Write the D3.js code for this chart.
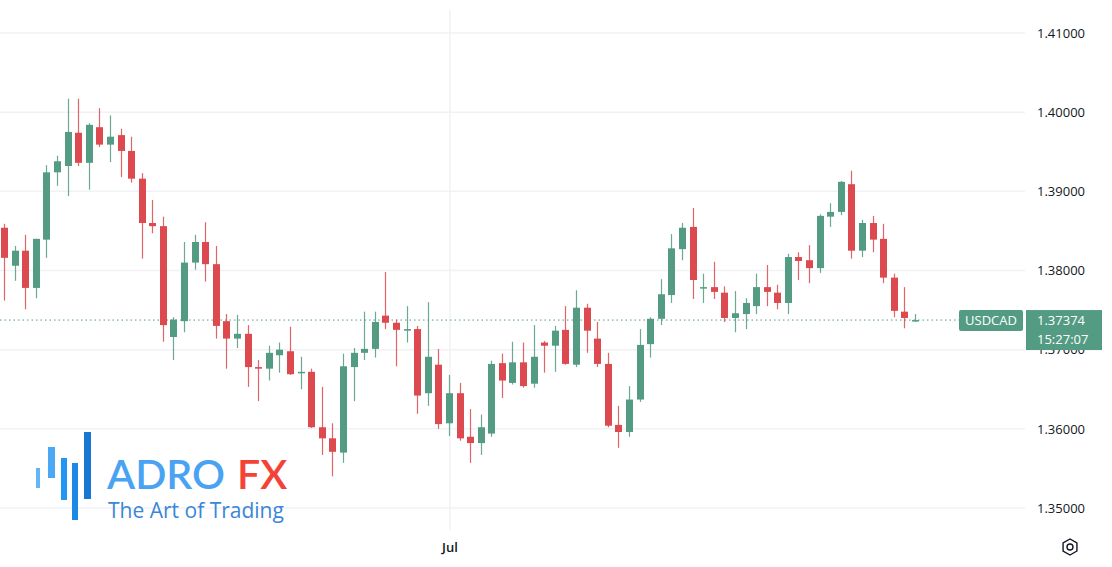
<!DOCTYPE html>
<html>
<head>
<meta charset="utf-8">
<script src="https://cdn.jsdelivr.net/npm/d3@7"></script>
<style>
  body { margin: 0; background: #fff; font-family: "Open Sans", "Noto Sans", sans-serif; }
</style>
</head>
<body>
<div id="chart"></div>
<script>
// daily USDCAD candles
const opens  = [1.3854,1.3806,1.3825,1.3778,1.3839,1.3924,1.3932,1.3974,1.3936,1.3981,1.3959,1.3971,1.3951,1.3916,1.3860,1.3856,1.3716,1.3736,1.3810,1.3836,1.3808,1.3736,1.3714,1.3720,1.3678,1.3676,1.3693,1.3698,1.3671,1.3672,1.3602,1.3588,1.3570,1.3678,1.3696,1.3701,1.3743,1.3734,1.3724,1.3726,1.3645,1.3681,1.3607,1.3645,1.3590,1.3582,1.3594,1.3683,1.3658,1.3684,1.3657,1.3709,1.3705,1.3725,1.3681,1.3753,1.3714,1.3682,1.3605,1.3596,1.3637,1.3707,1.3739,1.3769,1.3827,1.3855,1.3778,1.3779,1.3772,1.3740,1.3745,1.3755,1.3779,1.3772,1.3759,1.3817,1.3813,1.3803,1.3868,1.3874,1.3909,1.3825,1.3860,1.3840,1.3791,1.3748,1.3736];
const highs  = [1.3859,1.3831,1.3845,1.3840,1.3933,1.3945,1.4017,1.4017,1.3986,1.4005,1.3996,1.3979,1.3969,1.3923,1.3889,1.3868,1.3741,1.3836,1.3845,1.3861,1.3831,1.3745,1.3744,1.3731,1.3687,1.3705,1.3709,1.3729,1.3691,1.3676,1.3653,1.3607,1.3695,1.3702,1.3748,1.3748,1.3798,1.3738,1.3755,1.3730,1.3760,1.3701,1.3668,1.3658,1.3625,1.3618,1.3686,1.3695,1.3710,1.3709,1.3731,1.3711,1.3730,1.3755,1.3775,1.3758,1.3735,1.3696,1.3629,1.3654,1.3726,1.3741,1.3789,1.3846,1.3860,1.3879,1.3796,1.3811,1.3780,1.3774,1.3765,1.3796,1.3807,1.3782,1.3821,1.3823,1.3832,1.3871,1.3885,1.3913,1.3926,1.3864,1.3869,1.3859,1.3796,1.3779,1.3745];
const lows   = [1.3762,1.3787,1.3751,1.3765,1.3816,1.3907,1.3894,1.3932,1.3902,1.3956,1.3937,1.3918,1.3911,1.3815,1.3847,1.3710,1.3687,1.3722,1.3801,1.3786,1.3714,1.3676,1.3702,1.3653,1.3635,1.3661,1.3671,1.3668,1.3650,1.3601,1.3567,1.3540,1.3557,1.3635,1.3687,1.3690,1.3726,1.3679,1.3709,1.3619,1.3629,1.3600,1.3591,1.3585,1.3557,1.3567,1.3590,1.3639,1.3656,1.3652,1.3652,1.3671,1.3672,1.3681,1.3678,1.3696,1.3678,1.3602,1.3576,1.3590,1.3634,1.3690,1.3731,1.3759,1.3813,1.3764,1.3759,1.3764,1.3735,1.3722,1.3726,1.3745,1.3755,1.3751,1.3745,1.3788,1.3784,1.3797,1.3855,1.3870,1.3815,1.3817,1.3823,1.3784,1.3741,1.3727,1.3735];
const closes = [1.3816,1.3825,1.3778,1.3840,1.3924,1.3938,1.3975,1.3936,1.3984,1.3959,1.3969,1.3951,1.3916,1.3860,1.3856,1.3731,1.3738,1.3810,1.3836,1.3808,1.3730,1.3714,1.3720,1.3678,1.3676,1.3696,1.3700,1.3669,1.3672,1.3602,1.3588,1.3571,1.3679,1.3696,1.3701,1.3735,1.3734,1.3725,1.3726,1.3642,1.3691,1.3606,1.3645,1.3588,1.3582,1.3602,1.3682,1.3661,1.3684,1.3654,1.3691,1.3705,1.3724,1.3682,1.3753,1.3724,1.3682,1.3604,1.3596,1.3637,1.3706,1.3739,1.3770,1.3828,1.3854,1.3788,1.3779,1.3773,1.3740,1.3746,1.3759,1.3779,1.3773,1.3759,1.3817,1.3812,1.3803,1.3869,1.3874,1.3912,1.3825,1.3860,1.3839,1.3791,1.3749,1.3740,1.37374];

const priceTicks = [1.35, 1.36, 1.37, 1.38, 1.39, 1.40, 1.41];
const monthTicks = [{ i: 42.1, label: "Jul" }];
const symbol = "USDCAD";
const lastPrice = 1.37374;
const countdown = "15:27:07";

const W = 1112, H = 567;
const plotRight = 1025;
const up = "#539b83", down = "#dc4a4f";

const svg = d3.select("#chart").append("svg")
  .attr("width", W).attr("height", H);

const x = d3.scaleLinear().domain([0, 86]).range([4, 915]);
const y = d3.scaleLinear().domain([1.35, 1.41]).range([508, 33]);

// grid
svg.append("g").selectAll("line").data(priceTicks).join("line")
  .attr("x1", 0).attr("x2", plotRight)
  .attr("y1", d => y(d)).attr("y2", d => y(d))
  .attr("stroke", "#f0f2f5").attr("stroke-width", 1.5);
svg.append("g").selectAll("line").data(monthTicks).join("line")
  .attr("x1", d => x(d.i)).attr("x2", d => x(d.i))
  .attr("y1", 10).attr("y2", 530)
  .attr("stroke", "#f0f2f5").attr("stroke-width", 1.5);

// logo
const bars = [[36, 468, 4, 20, "#64b5f6"], [48, 447, 7, 31, "#4aa8f5"], [61, 458, 6, 42, "#2196f3"], [72, 463, 6, 57, "#1e88e5"], [84, 432, 7, 67, "#1976d2"]];
svg.append("g").selectAll("rect").data(bars).join("rect")
  .attr("x", d => d[0]).attr("y", d => d[1]).attr("width", d => d[2]).attr("height", d => d[3])
  .attr("fill", d => d[4]);
const logo = svg.append("text").attr("x", 107).attr("y", 489)
  .style("font-family", "Lato, 'Open Sans', sans-serif").style("font-weight", 600).style("font-size", "41px");
logo.append("tspan").attr("fill", "#4aa3f2").text("ADRO");
logo.append("tspan").attr("fill", "#f44336").attr("dx", 12).text("FX");
svg.append("text").attr("x", 108).attr("y", 518)
  .attr("fill", "#3a86d8").style("font-family", "'Open Sans', sans-serif").style("font-size", "21px")
  .text("The Art of Trading");

// last price line
svg.append("line")
  .attr("x1", 0).attr("x2", plotRight)
  .attr("y1", y(lastPrice)).attr("y2", y(lastPrice))
  .attr("stroke", up).attr("stroke-dasharray", "1.5,3").attr("stroke-width", 1);

// candles
const idx = d3.range(opens.length);
const bw = 7;
const g = svg.append("g");
g.selectAll(".wick").data(idx).join("line")
  .attr("x1", i => Math.round(x(i)) + 0.5).attr("x2", i => Math.round(x(i)) + 0.5)
  .attr("y1", i => y(highs[i])).attr("y2", i => y(lows[i]))
  .attr("stroke", i => closes[i] >= opens[i] ? up : down)
  .attr("stroke-width", 1.2).attr("opacity", 0.85);
g.selectAll(".body").data(idx).join("rect")
  .attr("x", i => Math.round(x(i)) + 0.5 - bw / 2)
  .attr("y", i => y(Math.max(opens[i], closes[i])))
  .attr("width", bw)
  .attr("height", i => Math.max(1.5, Math.abs(y(opens[i]) - y(closes[i]))))
  .attr("fill", i => closes[i] >= opens[i] ? up : down);

// price axis (1.37000 sits under the last-price box, as in the original)
const yAxis = svg.append("g").attr("transform", `translate(${plotRight},0)`)
  .call(d3.axisRight(y).tickValues(priceTicks).tickFormat(d3.format(".5f")).tickSize(0).tickPadding(12));
yAxis.select(".domain").remove();
yAxis.selectAll("text").style("font-size", "13px").style("fill", "#131722")
  .style("font-family", "'Open Sans', sans-serif");

// time axis
svg.append("g").selectAll("text").data(monthTicks).join("text")
  .attr("x", d => x(d.i)).attr("y", 552).attr("text-anchor", "middle")
  .style("font-size", "13px").style("font-weight", 600).style("fill", "#131722")
  .text(d => d.label);

// labels
const ly = y(lastPrice);
svg.append("rect").attr("x", 959).attr("y", ly - 10).attr("width", 64).attr("height", 21).attr("rx", 2).attr("fill", up);
svg.append("text").attr("x", 991).attr("y", ly + 5).attr("text-anchor", "middle")
  .style("font-size", "13px").style("fill", "#fff").text(symbol);
svg.append("rect").attr("x", 1026).attr("y", ly - 10).attr("width", 76).attr("height", 40).attr("fill", up);
svg.append("text").attr("x", 1037).attr("y", ly + 5)
  .style("font-size", "13px").style("fill", "#fff").text(d3.format(".5f")(lastPrice));
svg.append("text").attr("x", 1037).attr("y", ly + 24)
  .style("font-size", "13px").style("fill", "#fff").text(countdown);

// settings icon
const gear = svg.append("g").attr("transform", "translate(1070,547)");
gear.append("path")
  .attr("d", d3.range(6).map(k => { const a = k * Math.PI / 3 + Math.PI / 6; return (k ? "L" : "M") + (8 * Math.cos(a)).toFixed(2) + "," + (8 * Math.sin(a)).toFixed(2); }).join("") + "Z")
  .attr("fill", "none").attr("stroke", "#131722").attr("stroke-width", 1.4);
gear.append("circle").attr("r", 3).attr("fill", "none").attr("stroke", "#131722").attr("stroke-width", 1.4);
</script>
</body>
</html>
